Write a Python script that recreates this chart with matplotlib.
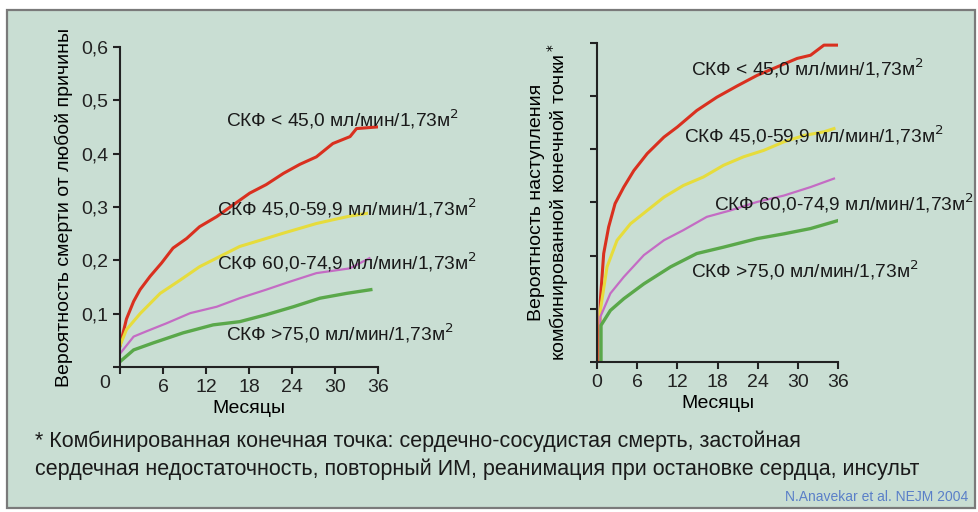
import numpy as np
import matplotlib
matplotlib.use("Agg")
import matplotlib.pyplot as plt
from matplotlib.patches import Rectangle

plt.rcParams['font.family'] = ['Liberation Sans', 'DejaVu Sans']

# --- данные: смертность от любой причины (левая панель)
m_red_l = [0, 0.9, 1.9, 2.8, 4.2, 5.8, 7.4, 9.3, 11.1, 13.5, 15.8, 18.1, 20.4, 22.8, 25.1, 27.4, 29.7, 32.1, 33.0, 35.8]
p_red_l = [0.04, 0.09, 0.123, 0.145, 0.17, 0.195, 0.223, 0.241, 0.263, 0.282, 0.304, 0.326, 0.342, 0.363, 0.38, 0.394, 0.419, 0.432, 0.447, 0.45]
m_yel_l = [0, 0.9, 2.8, 5.6, 8.4, 11.1, 13.9, 16.7, 20.4, 22.8, 25.1, 27.4, 29.7, 32.1, 34.4]
p_yel_l = [0.04, 0.07, 0.10, 0.138, 0.163, 0.188, 0.207, 0.226, 0.241, 0.251, 0.26, 0.269, 0.276, 0.283, 0.288]
m_pur_l = [0, 1.9, 3.7, 6.5, 9.8, 13.5, 16.7, 20.4, 23.7, 27.4, 32.1, 34.8]
p_pur_l = [0.025, 0.057, 0.067, 0.082, 0.101, 0.113, 0.129, 0.145, 0.16, 0.176, 0.185, 0.204]
m_grn_l = [0, 1.9, 4.6, 8.8, 13.0, 16.7, 20.4, 24.2, 27.9, 31.6, 35.0]
p_grn_l = [0.01, 0.032, 0.045, 0.064, 0.079, 0.085, 0.098, 0.113, 0.129, 0.138, 0.145]

# --- данные: комбинированная конечная точка (правая панель)
m_red_r = [0.4, 0.4, 0.5, 1.0, 1.74, 2.7, 4.0, 5.5, 7.5, 10.0, 12.0, 14.9, 17.9, 20.9, 23.9, 26.9, 29.9, 31.9, 33.9, 35.9]
p_red_r = [0, 0.06, 0.116, 0.204, 0.254, 0.298, 0.329, 0.36, 0.392, 0.423, 0.442, 0.473, 0.498, 0.519, 0.539, 0.555, 0.571, 0.577, 0.596, 0.596]
m_yel_r = [0.5, 0.5, 1.5, 3.0, 5.0, 7.5, 10.0, 12.9, 15.9, 18.9, 21.9, 24.9, 27.9, 30.9, 33.9, 35.4]
p_yel_r = [0, 0.097, 0.179, 0.229, 0.26, 0.285, 0.31, 0.332, 0.348, 0.37, 0.386, 0.398, 0.414, 0.426, 0.433, 0.439]
m_pur_r = [0.5, 0.5, 2.0, 4.0, 7.0, 10.0, 12.9, 16.4, 19.9, 23.9, 27.9, 31.9, 35.4]
p_pur_r = [0, 0.085, 0.129, 0.16, 0.201, 0.229, 0.248, 0.273, 0.285, 0.301, 0.313, 0.329, 0.345]
m_grn_r = [0.6, 0.6, 2.0, 4.0, 7.0, 11.0, 14.9, 18.9, 23.9, 27.9, 31.9, 36.0]
p_grn_r = [0, 0.069, 0.097, 0.119, 0.147, 0.179, 0.204, 0.216, 0.232, 0.241, 0.251, 0.266]

x_ticks = [0, 6, 12, 18, 24, 30, 36]
y_ticks = [0, 0.1, 0.2, 0.3, 0.4, 0.5, 0.6]
y_ticklabels = ['', '0,1', '0,2', '0,3', '0,4', '0,5', '0,6']

lab_lt45 = 'СКФ < 45,0 мл/мин/1,73м$^2$'
lab_45 = 'СКФ 45,0-59,9 мл/мин/1,73м$^2$'
lab_60 = 'СКФ 60,0-74,9 мл/мин/1,73м$^2$'
lab_75 = 'СКФ >75,0 мл/мин/1,73м$^2$'

c_red = '#d9301f'
c_yel = '#e6dc3c'
c_pur = '#c46cc4'
c_grn = '#5aa84a'
bg = '#c9ded3'

fig = plt.figure(figsize=(9.79, 5.12), dpi=100, facecolor='white')
fig.patches.append(Rectangle((7 / 979, 4 / 512), 968 / 979, 498 / 512, transform=fig.transFigure,
                             facecolor=bg, edgecolor='#7a7a7a', linewidth=1.6, zorder=-1))

ax1 = fig.add_axes([120 / 979, 1 - 367 / 512, 258 / 979, 320 / 512])
ax2 = fig.add_axes([597 / 979, 1 - 362 / 512, 241 / 979, 319 / 512])

for ax in (ax1, ax2):
    ax.set_facecolor('none')
    for s in ('top', 'right'):
        ax.spines[s].set_visible(False)
    for s in ('left', 'bottom'):
        ax.spines[s].set_color('#222222')
        ax.spines[s].set_linewidth(1.5)
    ax.set_xlim(0, 36)
    ax.set_ylim(0, 0.6)
    ax.set_xticks(x_ticks)
    ax.set_yticks(y_ticks)
    ax.tick_params(direction='out', length=5, width=1.5, color='#222222', labelsize=14, colors='#222222')
    ax.set_xlabel('Месяцы', fontsize=14, labelpad=3)

ax1.plot(m_red_l, p_red_l, color=c_red, lw=2.2)
ax1.plot(m_yel_l, p_yel_l, color=c_yel, lw=2.2)
ax1.plot(m_pur_l, p_pur_l, color=c_pur, lw=1.6)
ax1.plot(m_grn_l, p_grn_l, color=c_grn, lw=2.4)
ax1.set_xticklabels([''] + [str(v) for v in x_ticks[1:]])
ax1.set_yticklabels(y_ticklabels)
ax1.text(-0.04, -0.05, '0', transform=ax1.transAxes, fontsize=14, ha='right', va='center', color='#222222')
ax1.set_ylabel('Вероятность смерти от любой причины', fontsize=14, labelpad=6)

ax2.plot(m_red_r, p_red_r, color=c_red, lw=2.2)
ax2.plot(m_yel_r, p_yel_r, color=c_yel, lw=2.2)
ax2.plot(m_pur_r, p_pur_r, color=c_pur, lw=1.6)
ax2.plot(m_grn_r, p_grn_r, color=c_grn, lw=2.4)
ax2.set_xticklabels([str(v) for v in x_ticks])
ax2.set_yticklabels([])
ax2.set_ylabel('Вероятность наступления\nкомбинированной конечной точки$^*$', fontsize=14, labelpad=10,
               linespacing=1.0)

# подписи кривых (в пикселях фигуры)
def flabel(x, y, s):
    fig.text(x / 979, 1 - y / 512, s, fontsize=13.8, ha='left', va='center', color='#1a1a1a')

flabel(226, 119, lab_lt45)
flabel(217, 208, lab_45)
flabel(217, 262, lab_60)
flabel(226, 333, lab_75)
flabel(691, 68, lab_lt45)
flabel(684, 135, lab_45)
flabel(714, 203, lab_60)
flabel(691, 270, lab_75)

fig.text(35 / 979, 1 - 441 / 512, '* Комбинированная конечная точка: сердечно-сосудистая смерть, застойная',
         fontsize=15.5, ha='left', va='center', color='#1a1a1a')
fig.text(35 / 979, 1 - 469 / 512, 'сердечная недостаточность, повторный ИМ, реанимация при остановке сердца, инсульт',
         fontsize=15.5, ha='left', va='center', color='#1a1a1a')
fig.text(968 / 979, 1 - 497 / 512, 'N.Anavekar et al. NEJM 2004', fontsize=10, ha='right', va='center',
         color='#5a7fc8')

fig.savefig('out.png', dpi=100, facecolor='white')
